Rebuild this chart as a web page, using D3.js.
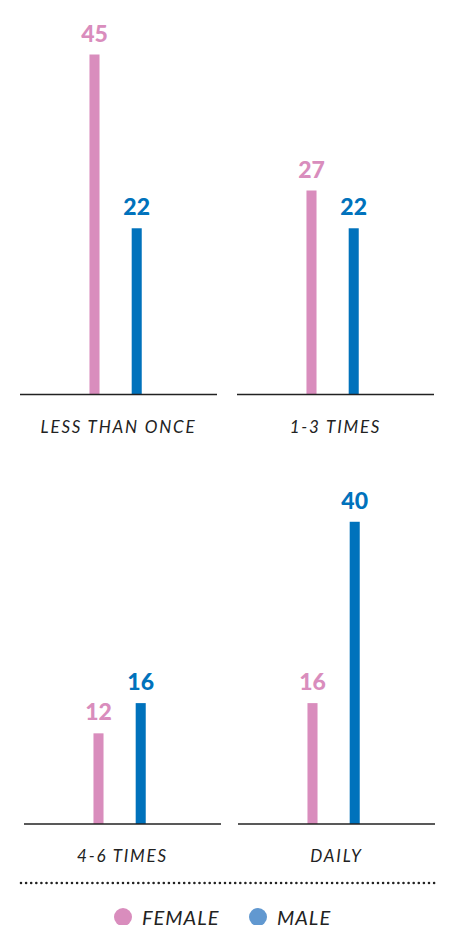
<!DOCTYPE html>
<html lang="en">
<head>
  <meta charset="utf-8">
  <title>Frequency by gender</title>
  <script src="https://d3js.org/d3.v7.min.js"></script>
  <style>
    body { margin: 0; background: #fff; }
    svg { display: block; }
    .value { font-family: Lato, "Open Sans", sans-serif; font-weight: 900; font-size: 23px; }
    .cat { font-family: Lato, "Open Sans", sans-serif; font-style: italic; font-size: 17px; letter-spacing: 1.8px; fill: #222; }
    .legend text { font-family: Lato, "Open Sans", sans-serif; font-style: italic; font-size: 20px; letter-spacing: 1px; fill: #222; }
  </style>
</head>
<body>
<div id="chart"></div>
<script>
const categories = ["LESS THAN ONCE", "1-3 TIMES", "4-6 TIMES", "DAILY"];
const genders = ["Female", "Male"];
const female = [45, 27, 12, 16];
const male = [22, 22, 16, 40];

const width = 449, height = 925;
const colors = {Female: "#d98dbd", Male: "#0072bc"};
const legendColors = {Female: "#d98dbd", Male: "#6198d0"};

// panel placement: left edge of each baseline and the baseline y
const panels = [
  {x: 20, base: 394.5},
  {x: 237, base: 394.5},
  {x: 24, base: 824},
  {x: 238, base: 824}
];
const panelW = 197;
const barH = 340; // pixels for max value

let y = d3.scaleLinear().domain([0, 45]).range([0, barH]);
let x = d3.scaleBand()
    .domain(genders)
    .range([0, panelW])
    .paddingInner(0.762)
    .paddingOuter(1.714)
    .align(0.48);

let svg = d3.select("#chart").append("svg")
    .attr("width", width)
    .attr("height", height);

const data = categories.map((c, i) => ({
  cat: c,
  values: [{g: "Female", v: female[i]}, {g: "Male", v: male[i]}]
}));

let panel = svg.selectAll(".panel")
  .data(data)
  .join("g")
    .attr("class", "panel")
    .attr("transform", (d, i) => `translate(${panels[i].x},${panels[i].base})`);

panel.selectAll(".bar")
  .data(d => d.values)
  .join("rect")
    .attr("class", "bar")
    .attr("x", d => x(d.g))
    .attr("y", d => -y(d.v))
    .attr("width", x.bandwidth())
    .attr("height", d => y(d.v))
    .style("fill", d => colors[d.g]);

panel.selectAll(".value")
  .data(d => d.values)
  .join("text")
    .attr("class", "value")
    .attr("x", d => x(d.g) + x.bandwidth()/2)
    .attr("y", d => Math.max(-y(d.v) - 13, -362))
    .attr("text-anchor", "middle")
    .style("fill", d => colors[d.g])
    .text(d => d.v);

panel.append("line")
    .attr("x1", 0)
    .attr("x2", panelW)
    .attr("stroke", "#222")
    .attr("stroke-width", 1.5);

panel.append("text")
    .attr("class", "cat")
    .attr("x", panelW/2)
    .attr("y", 38)
    .attr("text-anchor", "middle")
    .text(d => d.cat);

// dotted separator
svg.append("line")
    .attr("x1", 21)
    .attr("x2", 436)
    .attr("y1", 883)
    .attr("y2", 883)
    .attr("stroke", "#222")
    .attr("stroke-width", 2.6)
    .attr("stroke-linecap", "round")
    .attr("stroke-dasharray", "0 5.1");

// legend
let legend = svg.append("g")
    .attr("class", "legend")
  .selectAll("g")
  .data(genders)
  .join("g")
    .attr("transform", (d, i) => `translate(${123 + i*135},917)`);

legend.append("circle")
    .attr("r", 9)
    .style("fill", d => legendColors[d]);

legend.append("text")
    .attr("x", 19)
    .attr("y", 8)
    .text(d => d.toUpperCase());
</script>
</body>
</html>
